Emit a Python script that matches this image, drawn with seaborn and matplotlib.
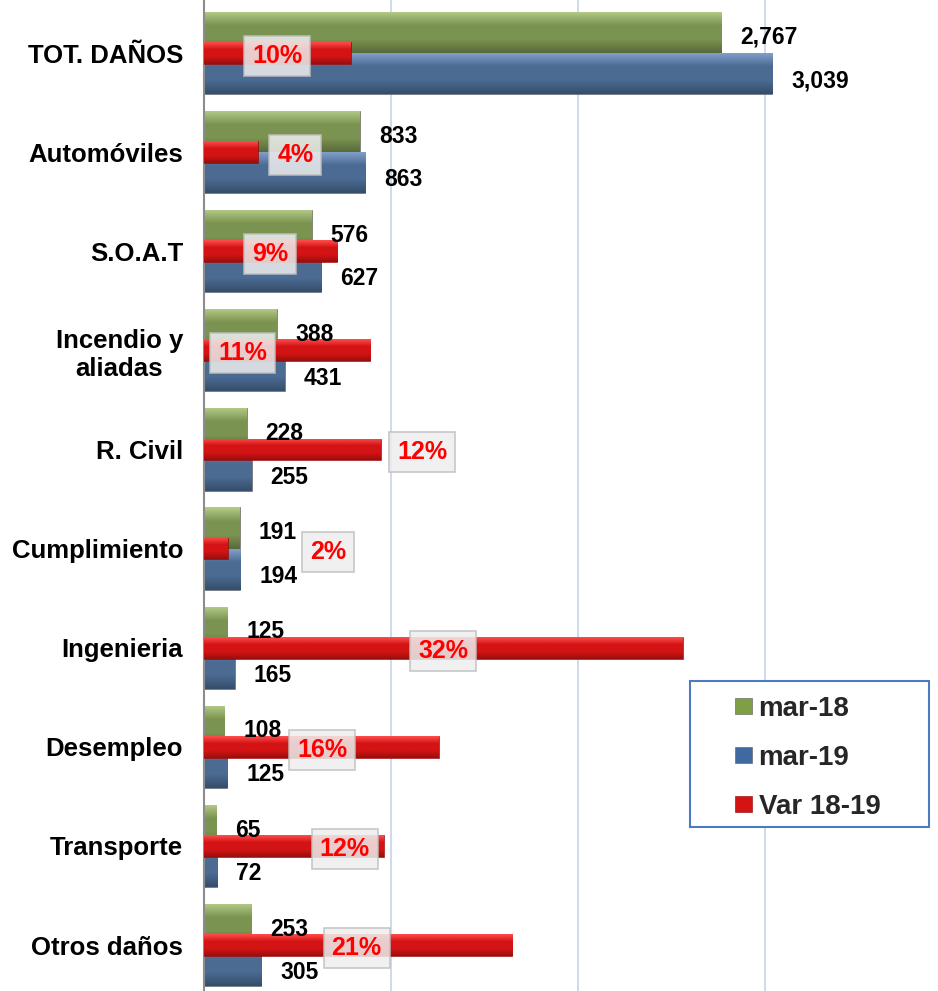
import matplotlib
matplotlib.use("Agg")
import matplotlib.pyplot as plt
import seaborn as sns
import numpy as np
import pandas as pd
from matplotlib.patches import Patch, Rectangle
from matplotlib.colors import LinearSegmentedColormap, to_rgb

categories = ['TOT. DAÑOS', 'Automóviles', 'S.O.A.T', 'Incendio y\naliadas', 'R. Civil',
              'Cumplimiento', 'Ingenieria', 'Desempleo', 'Transporte', 'Otros daños']
mar_18 = [2767, 833, 576, 388, 228, 191, 125, 108, 65, 253]
mar_19 = [3039, 863, 627, 431, 255, 194, 165, 125, 72, 305]
var_18_19 = [9.8, 3.6, 8.9, 11.1, 11.8, 1.6, 32.0, 15.7, 12.0, 20.6]   # %
var_labels = ['10%', '4%', '9%', '11%', '12%', '2%', '32%', '16%', '12%', '21%']

# where the % boxes were put (red axis units)
var_label_x = [4.9, 6.1, 4.4, 2.6, 14.6, 8.3, 16.0, 7.9, 9.4, 10.2]

GREEN = '#7F9F45'
BLUE = '#3F6AA0'
RED = '#D41414'

sns.set_style("white")
plt.rcParams['font.family'] = ['Liberation Sans', 'DejaVu Sans']

df = pd.DataFrame({
    'cat': categories * 2,
    'serie': ['mar-18'] * len(categories) + ['mar-19'] * len(categories),
    'valor': mar_18 + mar_19,
})

fig = plt.figure(figsize=(9.38, 9.91), dpi=100)
ax = fig.add_axes([204 / 938, 0, 1 - 204 / 938, 1])

sns.barplot(data=df, y='cat', x='valor', hue='serie', order=categories,
            palette=[GREEN, BLUE], width=0.83, orient='h', ax=ax, legend=False,
            edgecolor='#5a5a5a', linewidth=0.4, zorder=2)

ax2 = ax.twiny()
sns.barplot(x=var_18_19, y=categories, order=categories, color=RED, width=0.22,
            orient='h', ax=ax2, edgecolor='#8a0000', linewidth=0.4, saturation=1, zorder=3)


def bevel(axis, xlim):
    # fake the excel bevel look with a vertical gradient inside every bar
    axis.set_xlim(*xlim)
    for p in list(axis.patches):
        base = np.array(to_rgb(p.get_facecolor()))
        light = np.clip(base + 0.22, 0, 1)
        dark = base * 0.72
        cmap = LinearSegmentedColormap.from_list('b', [light, base, base, dark])
        x0, y0 = p.get_x(), p.get_y()
        w, h = p.get_width(), p.get_height()
        grad = np.linspace(0, 1, 64).reshape(-1, 1)
        im = axis.imshow(grad, extent=[x0, x0 + w, y0 + h, y0], aspect='auto',
                         cmap=cmap, zorder=p.get_zorder() + 0.1, interpolation='bilinear')
        im.set_clip_path(p)


bevel(ax, (0, 3925))
bevel(ax2, (0, 49.06))

ax.set_xlim(0, 3925)
ax2.set_xlim(0, 49.06)
ax.set_ylim(9.464, -0.535)

ax.set_xticks([1000, 2000, 3000])
ax.set_xticklabels([])
ax.grid(axis='x', color='#C3D4EA', linewidth=1.2, zorder=0)
ax.set_axisbelow(True)
ax.tick_params(axis='x', length=0)
ax2.set_xticks([])
ax.set_xlabel('')
ax.set_ylabel('')
ax2.set_xlabel('')

for s in ['top', 'right', 'bottom']:
    ax.spines[s].set_visible(False)
    ax2.spines[s].set_visible(False)
ax2.spines['left'].set_visible(False)
ax.spines['left'].set_color('#8C8C8C')
ax.spines['left'].set_linewidth(1.5)

ax.set_yticks(range(len(categories)))
ax.set_yticklabels(categories, fontsize=18.5, fontweight='bold', color='black')
ax.tick_params(axis='y', length=0, pad=15)
for lbl in ax.get_yticklabels():
    lbl.set_multialignment('center')

# value labels (drawn on the top axes so the red bars don't hide them)
for i, (a, b) in enumerate(zip(mar_18, mar_19)):
    ax2.annotate(f"{a:,}", (a, i - 0.16), xycoords=ax.transData, xytext=(19, 0),
                 textcoords='offset pixels', ha='left', va='center', fontsize=16.5,
                 fontweight='bold', color='black', zorder=6)
    ax2.annotate(f"{b:,}", (b, i + 0.28), xycoords=ax.transData, xytext=(19, 0),
                 textcoords='offset pixels', ha='left', va='center', fontsize=16.5,
                 fontweight='bold', color='black', zorder=6)

for i, (xp, lab) in enumerate(zip(var_label_x, var_labels)):
    ax2.text(xp, i + 0.03, lab, ha='center', va='center', fontsize=18, fontweight='bold',
             color='#FF0000', zorder=7,
             bbox=dict(boxstyle='square,pad=0.32', fc='#EEEEEE', ec='#BFBFBF', lw=1.2, alpha=0.85))

# legend: frame drawn separately so it can be wider than its content
fig.patches.append(Rectangle((690 / 938, 1 - 827 / 991), 239 / 938, 146 / 991,
                             transform=fig.transFigure, fc='white', ec='#4A7BC0', lw=1.5,
                             zorder=8))
handles = [Patch(facecolor=GREEN, edgecolor='#5a5a5a', lw=0.4),
           Patch(facecolor=BLUE, edgecolor='#5a5a5a', lw=0.4),
           Patch(facecolor=RED, edgecolor='#8a0000', lw=0.4)]
leg = fig.legend(handles, ['mar-18', 'mar-19', 'Var 18-19'], loc='upper left',
                 bbox_to_anchor=(735 / 938, 1 - 696 / 991), frameon=False,
                 prop={'size': 20, 'weight': 'bold'}, handlelength=0.6, handleheight=0.5,
                 handletextpad=0.25, labelspacing=0.82, borderpad=0, borderaxespad=0)
leg.set_zorder(9)

fig.savefig('out.png', dpi=100)
